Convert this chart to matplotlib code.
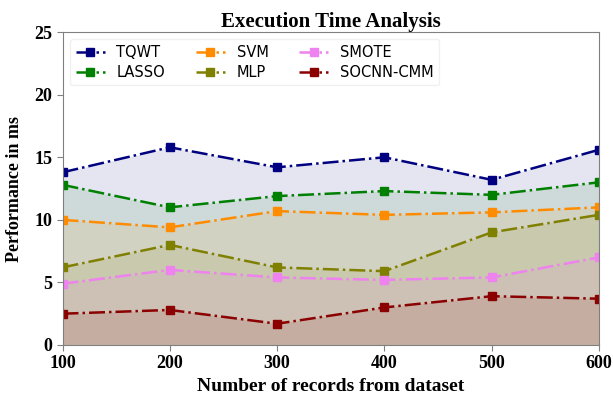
import numpy as np
import matplotlib.pyplot as plt

# Records processed and execution time (ms) per method
records = [100, 200, 300, 400, 500, 600]
tqwt = [13.8, 15.8, 14.2, 15.0, 13.2, 15.6]
lasso = [12.8, 11.0, 11.9, 12.3, 12.0, 13.0]
svm = [10.0, 9.4, 10.7, 10.4, 10.6, 11.0]
mlp = [6.2, 8.0, 6.2, 5.9, 9.0, 10.4]
smote = [4.9, 6.0, 5.4, 5.2, 5.4, 7.0]
socnn = [2.5, 2.8, 1.7, 3.0, 3.9, 3.7]

names = ['TQWT', 'LASSO', 'SVM', 'MLP', 'SMOTE', 'SOCNN-CMM']
series = [tqwt, lasso, svm, mlp, smote, socnn]
colors = ['navy', 'green', 'darkorange', 'olive', 'violet', 'darkred']

fig = plt.figure(figsize=(6.13, 3.97), dpi=100)
ax = fig.add_axes([0.102, 0.131, 0.875, 0.788])

for name, vals, c in zip(names, series, colors):
    ax.plot(records, vals, linestyle='-.', marker='s', color=c, label=name,
            linewidth=1.8, markersize=6)
    ax.fill_between(records, vals, 0, color=c, alpha=0.1, linewidth=0)

ax.set_xlim(100, 600)
ax.set_ylim(0, 25)
ax.set_xticks(records)
ax.set_yticks([0, 5, 10, 15, 20, 25])

serif = 'Liberation Serif'
for lab in ax.get_xticklabels() + ax.get_yticklabels():
    lab.set_fontfamily(serif)
    lab.set_fontweight('bold')
    lab.set_fontsize(13)

ax.set_title('Execution Time Analysis', fontfamily=serif, fontweight='bold',
             fontsize=15, pad=4)
ax.set_xlabel('Number of records from dataset', fontfamily=serif,
              fontweight='bold', fontsize=14, labelpad=4)
ax.set_ylabel('Performance in ms', fontfamily=serif, fontweight='bold',
              fontsize=13, labelpad=8)

for s in ax.spines.values():
    s.set_color('gray')
ax.tick_params(color='gray', length=4)

leg = ax.legend(loc='upper left', ncol=3, fontsize=10.5, handlelength=2.0,
                columnspacing=2.1, borderpad=0.4, labelspacing=0.3,
                framealpha=0.6)
leg.get_frame().set_edgecolor('#e6e6e6')

plt.savefig('out.png', dpi=100)
plt.close()
